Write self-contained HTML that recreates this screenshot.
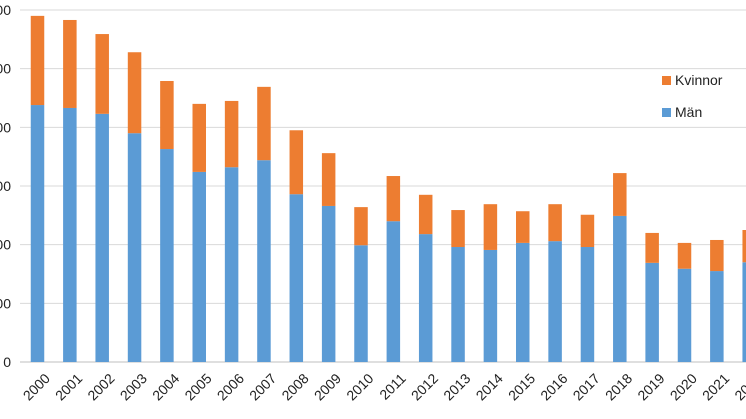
<!DOCTYPE html>
<html><head><meta charset="utf-8"><style>
html,body{margin:0;padding:0;background:#fff;width:746px;height:419px;overflow:hidden}
svg{display:block;font-family:"Liberation Sans",Arial,sans-serif}
</style></head><body>
<svg id="chart" width="746" height="419">
<g id="grid"></g>
<g id="bars"></g>
<g id="ylabels"></g>
<g id="xlabels"></g>
<g>
<rect x="662" y="76" width="9" height="9" fill="#ED7D31"/>
<text x="675" y="85" font-size="14" fill="#222">Kvinnor</text>
<rect x="662" y="108" width="9" height="9" fill="#5B9BD5"/>
<text x="675" y="117" font-size="14" fill="#222">Män</text>
</g>
</svg>
<script>
const years=["2000","2001","2002","2003","2004","2005","2006","2007","2008","2009","2010","2011","2012","2013","2014","2015","2016","2017","2018","2019","2020","2021","2022"];
const men=[43.8,43.3,42.3,39.0,36.3,32.4,33.2,34.4,28.6,26.6,19.9,24.0,21.8,19.6,19.1,20.3,20.6,19.6,24.9,16.9,15.9,15.5,17.0];
const totals=[59.0,58.3,55.9,52.8,47.9,44.0,44.5,46.9,39.5,35.6,26.4,31.7,28.5,25.9,26.9,25.7,26.9,25.1,32.2,22.0,20.3,20.8,22.5];
const yTicks=[0,10,20,30,40,50,60];
const ns="http://www.w3.org/2000/svg";
const y0=362,yTop=10,yMax=60;
function y(v){return y0-(v/yMax)*(y0-yTop);}
function xc(i){return 37.5+i*32.35;}
const bw=13.5;
const grid=document.getElementById('grid'),bars=document.getElementById('bars'),yl=document.getElementById('ylabels'),xl=document.getElementById('xlabels');
yTicks.forEach(t=>{
 const l=document.createElementNS(ns,'line');
 
 
 l.setAttribute('x1',20);l.setAttribute('x2',746);l.setAttribute('y1',y(t));l.setAttribute('y2',y(t));
 l.setAttribute('stroke',t===0?'#bfbfbf':'#d9d9d9');l.setAttribute('stroke-width',1);
 grid.appendChild(l);
 const tx=document.createElementNS(ns,'text');
 
 
 tx.setAttribute('x',11);tx.setAttribute('y',y(t)+5);tx.setAttribute('text-anchor','end');
 tx.setAttribute('font-size','14');tx.setAttribute('fill','#222');
 tx.textContent=String(t*10);
 yl.appendChild(tx);
});
years.forEach((yr,i)=>{
 const x=xc(i)-bw/2;
 const m=document.createElementNS(ns,'rect');
 
 
 m.setAttribute('x',x);m.setAttribute('width',bw);m.setAttribute('y',y(men[i]));m.setAttribute('height',y0-y(men[i]));
 m.setAttribute('fill','#5B9BD5');bars.appendChild(m);
 const k=document.createElementNS(ns,'rect');
 
 
 k.setAttribute('x',x);k.setAttribute('width',bw);k.setAttribute('y',y(totals[i]));k.setAttribute('height',y(men[i])-y(totals[i]));
 k.setAttribute('fill','#ED7D31');bars.appendChild(k);
 const tx=document.createElementNS(ns,'text');
 
 
 const ax=xc(i)+6,ay=372;
 tx.setAttribute('x',ax);tx.setAttribute('y',ay);tx.setAttribute('text-anchor','end');
 tx.setAttribute('font-size','14');tx.setAttribute('fill','#222');
 tx.setAttribute('transform','rotate(-45 '+ax+' '+ay+')');
 tx.setAttribute('dominant-baseline','hanging');
 tx.textContent=yr;
 xl.appendChild(tx);
});
</script>
</body></html>
